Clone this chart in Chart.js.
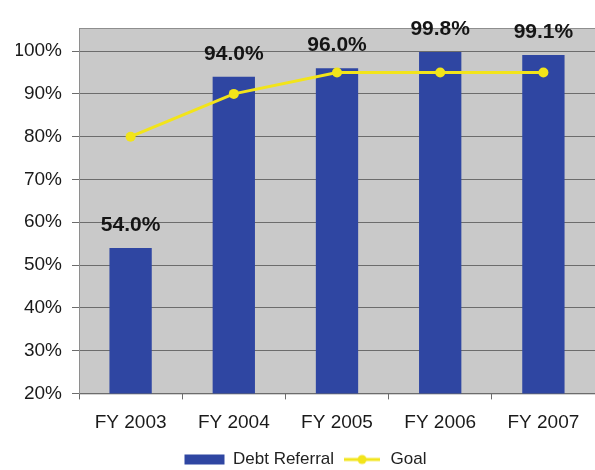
<!DOCTYPE html>
<html>
<head>
<meta charset="utf-8">
<script src="https://cdn.jsdelivr.net/npm/chart.js@4/dist/chart.umd.min.js"></script>
<style>
  html, body { margin: 0; padding: 0; background: #ffffff; }
  #wrap { width: 595px; height: 470px; position: relative; }
</style>
</head>
<body>
<div id="wrap"><canvas id="c" width="595" height="470"></canvas></div>
<script>
const categories = ['FY 2003', 'FY 2004', 'FY 2005', 'FY 2006', 'FY 2007'];
const debtReferral = [54.0, 94.0, 96.0, 99.8, 99.1];
const goal = [80, 90, 95, 95, 95];
const yTicks = [20, 30, 40, 50, 60, 70, 80, 90, 100];

const FONT = '"Liberation Sans", Arial, sans-serif';
const BAR = '#2f46a2';
const YEL = '#f2e41a';
const GRID = '#6c6c6c';

// legend glyph for the line series
const goalGlyph = document.createElement('canvas');
goalGlyph.width = 36; goalGlyph.height = 12;
(function () {
  const g = goalGlyph.getContext('2d');
  g.strokeStyle = YEL; g.lineWidth = 3;
  g.beginPath(); g.moveTo(0, 6); g.lineTo(36, 6); g.stroke();
  g.fillStyle = YEL; g.beginPath(); g.arc(18, 6, 4.5, 0, Math.PI * 2); g.fill();
})();

const plotBg = {
  id: 'plotBg',
  beforeDraw(chart) {
    const { ctx, chartArea: a } = chart;
    ctx.save();
    ctx.fillStyle = '#c9c9c9';
    ctx.fillRect(a.left, a.top, a.right - a.left, a.bottom - a.top);
    ctx.strokeStyle = '#8e8e8e';
    ctx.lineWidth = 1;
    ctx.strokeRect(a.left + 0.5, a.top + 0.5, a.right - a.left, a.bottom - a.top);
    ctx.restore();
  }
};

const barLabels = {
  id: 'barLabels',
  afterDatasetsDraw(chart) {
    const { ctx } = chart;
    const meta = chart.getDatasetMeta(0);
    ctx.save();
    ctx.font = 'bold 21px ' + FONT;
    ctx.fillStyle = '#151515';
    ctx.textAlign = 'center';
    ctx.textBaseline = 'middle';
    meta.data.forEach((el, i) => {
      ctx.fillText(debtReferral[i].toFixed(1) + '%', el.x, el.y - 23);
    });
    ctx.restore();
  }
};

new Chart(document.getElementById('c'), {
  data: {
    labels: categories,
    datasets: [
      {
        type: 'bar',
        label: 'Debt Referral',
        data: debtReferral,
        backgroundColor: BAR,
        borderWidth: 0,
        categoryPercentage: 1.0,
        barPercentage: 0.41,
        order: 2
      },
      {
        type: 'line',
        label: 'Goal',
        data: goal,
        borderColor: YEL,
        backgroundColor: YEL,
        borderWidth: 3,
        pointRadius: 5,
        pointBackgroundColor: YEL,
        pointBorderWidth: 0,
        tension: 0,
        fill: false,
        clip: false,
        order: 1
      }
    ]
  },
  options: {
    responsive: false,
    animation: false,
    devicePixelRatio: 1,
    layout: { autoPadding: false, padding: { left: 16, right: 0, top: 28, bottom: -8 } },
    plugins: {
      tooltip: { enabled: false },
      title: { display: false },
      legend: {
        display: true,
        position: 'bottom',
        labels: {
          usePointStyle: true,
          pointStyleWidth: 40,
          boxHeight: 10,
          padding: 8,
          color: '#222',
          font: { family: FONT, size: 17 },
          generateLabels() {
            return [
              { text: 'Debt Referral', fillStyle: BAR, strokeStyle: BAR, lineWidth: 0, pointStyle: 'rect', datasetIndex: 0, fontColor: '#222' },
              { text: 'Goal', fillStyle: YEL, strokeStyle: YEL, lineWidth: 0, pointStyle: goalGlyph, datasetIndex: 1, fontColor: '#222' }
            ];
          }
        }
      }
    },
    scales: {
      x: {
        grid: { display: true, drawOnChartArea: false, drawTicks: true, tickLength: 6, color: GRID, offset: true },
        border: { display: true, color: GRID },
        ticks: { color: '#1a1a1a', font: { family: FONT, size: 19 }, padding: 12, maxRotation: 0 },
        afterFit(s) { s.height = 49.6; }
      },
      y: {
        min: 20,
        max: 105.4,
        afterBuildTicks(s) { s.ticks = yTicks.map(v => ({ value: v })); },
        grid: { color: GRID, lineWidth: 1, tickLength: 7, drawTicks: true },
        border: { display: true, color: '#8e8e8e' },
        ticks: {
          color: '#1a1a1a',
          font: { family: FONT, size: 19 },
          padding: 10,
          callback: v => v + '%'
        },
        afterFit(s) { s.width = 63; }
      }
    }
  },
  plugins: [plotBg, barLabels]
});
</script>
</body>
</html>
